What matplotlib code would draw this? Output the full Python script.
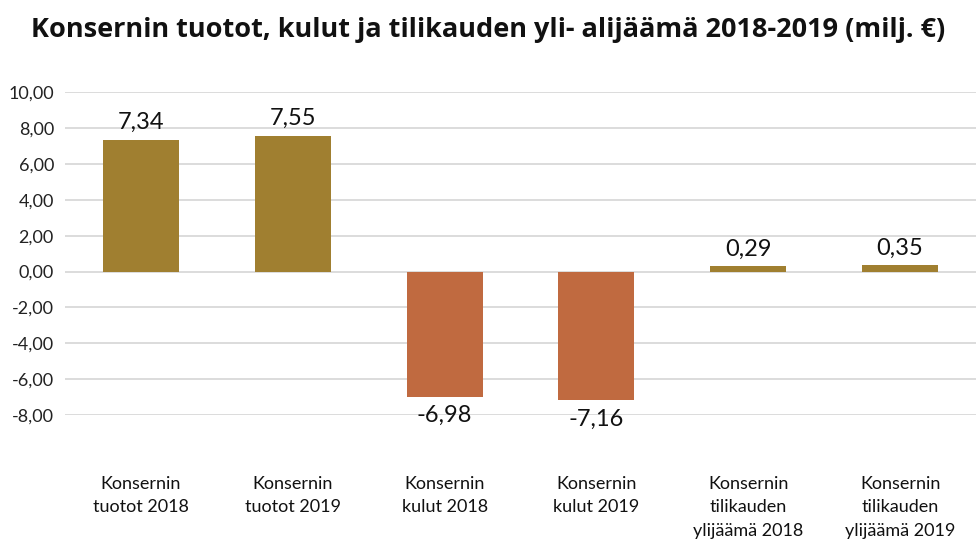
import numpy as np
import matplotlib.pyplot as plt

categories = ["Konsernin\ntuotot 2018", "Konsernin\ntuotot 2019",
              "Konsernin\nkulut 2018", "Konsernin\nkulut 2019",
              "Konsernin\ntilikauden\nylijäämä 2018", "Konsernin\ntilikauden\nylijäämä 2019"]
values = [7.34, 7.55, -6.98, -7.16, 0.29, 0.35]
colors = ["#A07F30", "#A07F30", "#C06A40", "#C06A40", "#A07F30", "#A07F30"]
yticks = [-8, -6, -4, -2, 0, 2, 4, 6, 8, 10]

plt.rcParams['font.family'] = ['Lato', 'DejaVu Sans']

fig = plt.figure(figsize=(9.76, 5.42), dpi=100)
ax = fig.add_axes([0.0666, 0.234, 0.9334, 0.596])

x = np.arange(len(categories))
ax.bar(x, values, width=0.5, color=colors, zorder=2)

for xi, v in zip(x, values):
    label = f"{v:.2f}".replace(".", ",")
    if v >= 0:
        ax.annotate(label, (xi, v), xytext=(0, 5), textcoords="offset points",
                    ha="center", va="bottom", fontsize=17, color="#111111")
    else:
        ax.annotate(label, (xi, v), xytext=(0, -6), textcoords="offset points",
                    ha="center", va="top", fontsize=17, color="#111111")

ax.set_ylim(-8, 10)
ax.set_xlim(-0.5, len(categories) - 0.5)
ax.set_yticks(yticks)
ax.set_yticklabels([f"{t:.2f}".replace(".", ",") for t in yticks], fontsize=13, color="#222222")
ax.set_xticks(x)
ax.set_xticklabels(categories, fontsize=13, color="#111111", linespacing=1.55)
ax.tick_params(axis="x", length=0, pad=44)
ax.tick_params(axis="y", length=0, pad=8)
ax.grid(axis="y", color="#D9D9D9", linewidth=1.3, zorder=0)
for s in ax.spines.values():
    s.set_visible(False)

fig.text(0.5, 0.945, "Konsernin tuotot, kulut ja tilikauden yli- alijäämä 2018-2019 (milj. €)",
         ha="center", va="center", fontsize=19.5, fontweight="bold", color="#111111",
         family=["Open Sans", "DejaVu Sans"])

fig.savefig("out.png", dpi=100)
